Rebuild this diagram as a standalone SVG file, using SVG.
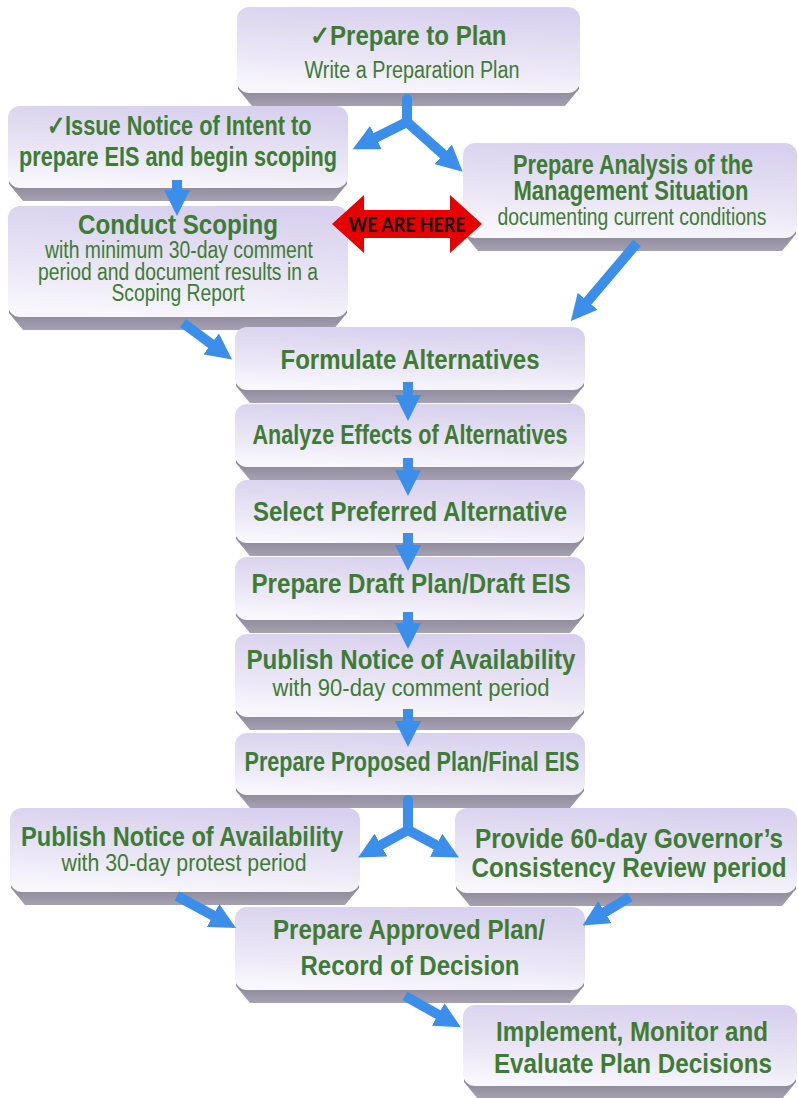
<svg xmlns="http://www.w3.org/2000/svg" width="798" height="1098" viewBox="0 0 798 1098">
<defs>
<linearGradient id="faceG" x1="0.6" y1="0" x2="0.4" y2="1"><stop offset="0" stop-color="#d8d0ee"/><stop offset="0.55" stop-color="#e8e4f4"/><stop offset="1" stop-color="#f8f7fc"/></linearGradient>
<linearGradient id="baseG" x1="0" y1="0" x2="0" y2="1"><stop offset="0" stop-color="#827c8f"/><stop offset="1" stop-color="#a5a1b0"/></linearGradient>
<marker id="ah" viewBox="0 0 26 26" refX="1" refY="13" markerWidth="26" markerHeight="26" markerUnits="userSpaceOnUse" orient="auto"><path d="M0,0 L26,13 L0,26 Z" fill="#3b8eea"/></marker>
</defs>
<style>
.face{fill:url(#faceG)}
.base{fill:url(#baseG)}
text{font-family:"Liberation Sans",Arial,sans-serif;fill:#3e7b34;text-anchor:middle}
.t{font-weight:bold;font-size:27px}
.s{font-weight:normal;font-size:23px}
.conn path{fill:none;stroke:#3b8eea;stroke-width:10;marker-end:url(#ah)}
.conn .fk{stroke-linecap:round;stroke-linejoin:round}
.we{font-family:Lato,"Liberation Sans",sans-serif;font-weight:bold;font-size:21px;fill:#111}
</style>
<rect width="798" height="1098" fill="#ffffff"/>

<g id="n1">
<path class="base" d="M238,81 L579,81 L579,89 L565,106 L252,106 L238,89Z"/>
<rect class="face" x="237" y="7" width="343" height="86" rx="12"/>
<text class="t" x="408" y="45" textLength="197" lengthAdjust="spacingAndGlyphs">✓Prepare to Plan</text>
<text class="s" x="412" y="78" font-size="24" textLength="215" lengthAdjust="spacingAndGlyphs">Write a Preparation Plan</text>
</g>

<g id="n2">
<path class="base" d="M9,176 L347,176 L347,184 L333,201 L23,201 L9,184Z"/>
<rect class="face" x="8" y="106" width="340" height="82" rx="12"/>
<text class="t" x="179" y="135" font-size="25" textLength="265" lengthAdjust="spacingAndGlyphs">✓Issue Notice of Intent to</text>
<text class="t" x="178" y="166" font-size="25" textLength="318" lengthAdjust="spacingAndGlyphs">prepare EIS and begin scoping</text>
</g>

<g id="n3">
<path class="base" d="M9,305 L347,305 L347,313 L333,330 L23,330 L9,313Z"/>
<rect class="face" x="8" y="206" width="340" height="111" rx="12"/>
<text class="t" x="178" y="234" font-size="28" textLength="200" lengthAdjust="spacingAndGlyphs">Conduct Scoping</text>
<text class="s" x="179" y="258" font-size="20" textLength="268" lengthAdjust="spacingAndGlyphs">with minimum 30-day comment</text>
<text class="s" x="178" y="280" font-size="20" textLength="280" lengthAdjust="spacingAndGlyphs">period and document results in a</text>
<text class="s" x="178" y="301" font-size="20" textLength="133" lengthAdjust="spacingAndGlyphs">Scoping Report</text>
</g>

<g id="n4">
<path class="base" d="M464,226 L796,226 L796,234 L782,251 L478,251 L464,234Z"/>
<rect class="face" x="463" y="143" width="334" height="95" rx="12"/>
<text class="t" x="633" y="174" font-size="24" textLength="240" lengthAdjust="spacingAndGlyphs">Prepare Analysis of the</text>
<text class="t" x="631" y="200" font-size="24" textLength="235" lengthAdjust="spacingAndGlyphs">Management Situation</text>
<text class="s" x="632" y="225" font-size="20" textLength="269" lengthAdjust="spacingAndGlyphs">documenting current conditions</text>
</g>

<g id="n5">
<path class="base" d="M236,378 L584,378 L584,386 L570,403 L250,403 L236,386Z"/>
<rect class="face" x="235" y="327" width="350" height="63" rx="12"/>
<text class="t" x="410" y="369" textLength="259" lengthAdjust="spacingAndGlyphs">Formulate Alternatives</text>
</g>

<g id="n6">
<path class="base" d="M236,455 L584,455 L584,463 L570,480 L250,480 L236,463Z"/>
<rect class="face" x="235" y="404" width="350" height="63" rx="12"/>
<text class="t" x="410" y="444" font-size="26" textLength="315" lengthAdjust="spacingAndGlyphs">Analyze Effects of Alternatives</text>
</g>

<g id="n7">
<path class="base" d="M236,531 L584,531 L584,539 L570,556 L250,556 L236,539Z"/>
<rect class="face" x="235" y="480" width="350" height="63" rx="12"/>
<text class="t" x="410" y="521" font-size="26" textLength="314" lengthAdjust="spacingAndGlyphs">Select Preferred Alternative</text>
</g>

<g id="n8">
<path class="base" d="M236,608 L584,608 L584,616 L570,633 L250,633 L236,616Z"/>
<rect class="face" x="235" y="557" width="350" height="63" rx="12"/>
<text class="t" x="411" y="593" font-size="26" textLength="319" lengthAdjust="spacingAndGlyphs">Prepare Draft Plan/Draft EIS</text>
</g>

<g id="n9">
<path class="base" d="M236,705 L584,705 L584,713 L570,730 L250,730 L236,713Z"/>
<rect class="face" x="235" y="634" width="350" height="83" rx="12"/>
<text class="t" x="411" y="669" textLength="329" lengthAdjust="spacingAndGlyphs">Publish Notice of Availability</text>
<text class="s" x="411" y="696" font-size="23" textLength="277" lengthAdjust="spacingAndGlyphs">with 90-day comment period</text>
</g>

<g id="n10">
<path class="base" d="M236,783 L584,783 L584,791 L570,808 L250,808 L236,791Z"/>
<rect class="face" x="235" y="733" width="350" height="62" rx="12"/>
<text class="t" x="412" y="771" font-size="25" textLength="335" lengthAdjust="spacingAndGlyphs">Prepare Proposed Plan/Final EIS</text>
</g>

<g id="n11">
<path class="base" d="M11,880 L359,880 L359,888 L345,905 L25,905 L11,888Z"/>
<rect class="face" x="10" y="808" width="350" height="84" rx="12"/>
<text class="t" x="182" y="846" textLength="322" lengthAdjust="spacingAndGlyphs">Publish Notice of Availability</text>
<text class="s" x="184" y="871" font-size="22" textLength="245" lengthAdjust="spacingAndGlyphs">with 30-day protest period</text>
</g>

<g id="n12">
<path class="base" d="M456,881 L796,881 L796,889 L782,906 L470,906 L456,889Z"/>
<rect class="face" x="455" y="808" width="342" height="85" rx="12"/>
<text class="t" x="629" y="848" textLength="308" lengthAdjust="spacingAndGlyphs">Provide 60-day Governor’s</text>
<text class="t" x="629" y="877" textLength="315" lengthAdjust="spacingAndGlyphs">Consistency Review period</text>
</g>

<g id="n13">
<path class="base" d="M236,978 L584,978 L584,986 L570,1003 L250,1003 L236,986Z"/>
<rect class="face" x="235" y="907" width="350" height="83" rx="12"/>
<text class="t" x="409" y="939" font-size="28" textLength="272" lengthAdjust="spacingAndGlyphs">Prepare Approved Plan/</text>
<text class="t" x="410" y="975" font-size="28" textLength="219" lengthAdjust="spacingAndGlyphs">Record of Decision</text>
</g>

<g id="n14">
<path class="base" d="M464,1074 L796,1074 L796,1082 L782,1099 L478,1099 L464,1082Z"/>
<rect class="face" x="463" y="1005" width="334" height="81" rx="12"/>
<text class="t" x="632" y="1041" font-size="28" textLength="272" lengthAdjust="spacingAndGlyphs">Implement, Monitor and</text>
<text class="t" x="633" y="1073" font-size="28" textLength="278" lengthAdjust="spacingAndGlyphs">Evaluate Plan Decisions</text>
</g>

<g id="connectors" class="conn">
<path class="fk" d="M407,99 L407,122 L375,138"/>
<path class="fk" d="M407,122 L444,155"/>
<path d="M177,180 L177,191"/>
<path d="M183,323 L212,344.5"/>
<path d="M637,243 L587,302"/>
<path d="M408,382 L408,396"/>
<path d="M408,458 L408,471"/>
<path d="M408,533 L408,546"/>
<path d="M408,612 L408,624"/>
<path d="M408,709 L408,722"/>
<path class="fk" d="M408,800 L408,830 L380,845.5"/>
<path class="fk" d="M408,830 L437,845.7"/>
<path d="M177,896 L214,916"/>
<path d="M630,897 L604,912.6"/>
<path d="M405,996 L439,1015"/>
</g>

<g id="we-are-here">
<polygon points="332,224 364,195 364,210 450,210 450,195 482,224 450,253 450,238 364,238 364,253" fill="#e60000"/>
<text class="we" x="407" y="232" textLength="117" lengthAdjust="spacingAndGlyphs">WE ARE HERE</text>
</g>
</svg>
